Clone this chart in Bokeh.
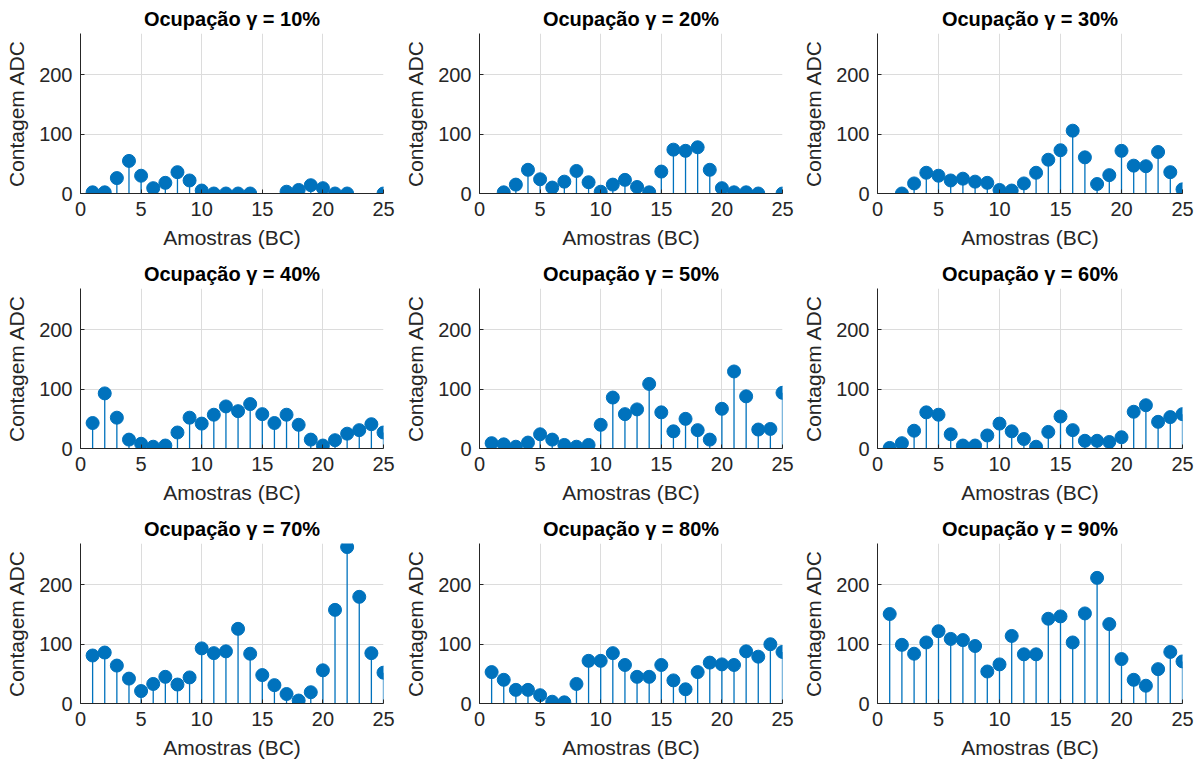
from bokeh.plotting import figure
from bokeh.layouts import gridplot
from bokeh.models import FixedTicker, ColumnDataSource
from bokeh.embed import file_html
from bokeh.resources import INLINE

samples = list(range(1, 26))
titles = ["Ocupação γ = 10%", "Ocupação γ = 20%", "Ocupação γ = 30%",
          "Ocupação γ = 40%", "Ocupação γ = 50%", "Ocupação γ = 60%",
          "Ocupação γ = 70%", "Ocupação γ = 80%", "Ocupação γ = 90%"]

occ10 = [2, 2, 26, 55, 30, 9, 18, 36, 22, 5, 0, 0, 0, 0, None, None, 3, 6, 14, 9, 0, 0, None, None, 0]
occ20 = [None, 2, 15, 40, 24, 10, 20, 38, 19, 3, 15, 23, 11, 2, 37, 74, 72, 78, 40, 9, 2, 2, 0, None, 0]
occ30 = [None, 0, 17, 35, 30, 22, 25, 20, 18, 6, 5, 17, 35, 57, 73, 106, 61, 16, 31, 72, 47, 46, 70, 36, 7]
occ40 = [43, 93, 52, 15, 8, 3, 5, 27, 52, 42, 57, 71, 63, 75, 58, 43, 57, 40, 15, 5, 14, 25, 31, 41, 27]
occ50 = [9, 7, 3, 10, 24, 15, 6, 3, 6, 40, 86, 58, 66, 109, 61, 29, 50, 31, 15, 67, 130, 88, 32, 33, 94]
occ60 = [1, 9, 30, 61, 57, 24, 5, 5, 22, 42, 29, 16, 3, 28, 54, 31, 13, 13, 11, 19, 62, 73, 45, 53, 58]
occ70 = [81, 86, 64, 42, 21, 33, 45, 32, 44, 93, 85, 88, 126, 84, 48, 31, 16, 5, 19, 56, 158, 264, 180, 85, 52]
occ80 = [53, 40, 23, 23, 14, 3, 2, 33, 72, 72, 85, 65, 45, 45, 65, 39, 24, 53, 69, 66, 65, 88, 79, 100, 87]
occ90 = [151, 99, 84, 103, 122, 109, 107, 97, 54, 66, 114, 83, 83, 143, 147, 103, 152, 212, 134, 75, 40, 30, 58, 87, 71]

series = [occ10, occ20, occ30, occ40, occ50, occ60, occ70, occ80, occ90]
x_ticks = [0, 5, 10, 15, 20, 25]
y_ticks = [0, 100, 200]

BLUE = "#0072BD"
AX = "#262626"
FONT = "Liberation Sans"

col_w = [399, 398, 403]
col_rb = [16, 15, 18]
ROW_H = 255
TOP_B = 33
FRAME_H = 160

figs = []
for i, (t, vals) in enumerate(zip(titles, series)):
    r, c = divmod(i, 3)
    xs = [x for x, v in zip(samples, vals) if v is not None]
    ys = [v for v in vals if v is not None]
    src = ColumnDataSource(dict(x=xs, y=ys, y0=[0] * len(xs)))
    p = figure(width=col_w[c], height=ROW_H, x_range=(0, 25), y_range=(0, 270),
               output_backend="svg", toolbar_location=None,
               min_border_left=80, min_border_right=col_rb[c],
               min_border_top=TOP_B,
               min_border_bottom=ROW_H - TOP_B - FRAME_H)
    p.title.text = t
    p.title.align = "center"
    p.title.text_font = FONT
    p.title.text_font_size = "20px"
    p.title.text_font_style = "bold"
    p.title.text_color = "black"
    p.title.standoff = 7
    p.outline_line_color = None
    p.segment(x0="x", y0="y0", x1="x", y1="y", source=src, line_color=BLUE, line_width=1.3)
    p.scatter(x="x", y="y", source=src, size=13, fill_color=BLUE, line_color=BLUE)
    p.xaxis.ticker = FixedTicker(ticks=x_ticks)
    p.yaxis.ticker = FixedTicker(ticks=y_ticks)
    p.xaxis.axis_label = "Amostras (BC)"
    p.yaxis.axis_label = "Contagem ADC"
    for ax in (p.xaxis, p.yaxis):
        ax.axis_label_text_font = FONT
        ax.axis_label_text_font_size = "21px"
        ax.axis_label_text_font_style = "normal"
        ax.axis_label_text_color = AX
        ax.major_label_text_font = FONT
        ax.major_label_text_font_size = "20px"
        ax.major_label_text_color = AX
        ax.axis_line_color = AX
        ax.major_tick_line_color = AX
        ax.major_tick_in = 4
        ax.major_tick_out = 0
        ax.minor_tick_line_color = None
    p.xaxis.axis_label_standoff = 7
    p.yaxis.axis_label_standoff = 8
    p.xaxis.major_label_standoff = 8
    p.yaxis.major_label_standoff = 8
    p.xgrid.grid_line_color = "#dcdcdc"
    p.ygrid.grid_line_color = "#dcdcdc"
    p.xgrid.ticker = FixedTicker(ticks=x_ticks)
    p.ygrid.ticker = FixedTicker(ticks=y_ticks)
    figs.append(p)

grid = gridplot([figs[0:3], figs[3:6], figs[6:9]], toolbar_location=None)
open("out.html", "w").write(file_html(grid, INLINE))
